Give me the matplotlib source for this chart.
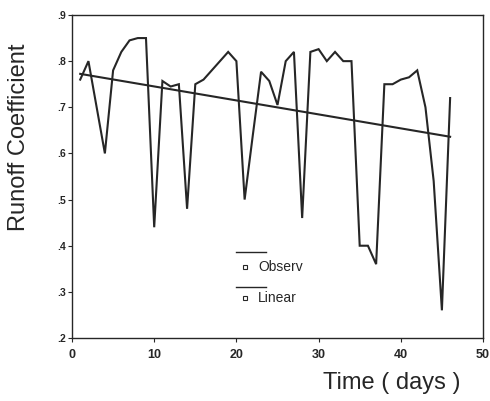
import numpy as np
import matplotlib
matplotlib.use("Agg")
import matplotlib.pyplot as plt
from matplotlib.ticker import FuncFormatter

days = list(range(1, 47))
runoff = [0.76, 0.80, 0.70, 0.60, 0.78, 0.82, 0.845, 0.85, 0.85, 0.44,
          0.757, 0.745, 0.75, 0.48, 0.75, 0.76, 0.78, 0.80, 0.82, 0.80,
          0.50, 0.64, 0.777, 0.757, 0.705, 0.80, 0.82, 0.46, 0.82, 0.826,
          0.80, 0.82, 0.80, 0.80, 0.40, 0.40, 0.36, 0.75, 0.75, 0.76,
          0.765, 0.78, 0.70, 0.54, 0.26, 0.72]
legend_labels = ["Observ", "Linear"]
x_ticks = [0, 10, 20, 30, 40, 50]
y_ticks = [0.2, 0.3, 0.4, 0.5, 0.6, 0.7, 0.8, 0.9]

plt.rcParams['font.family'] = ['Liberation Sans', 'DejaVu Sans']
ink = '#262626'

fig = plt.figure(figsize=(4.9, 4.01), dpi=100)
ax = fig.add_axes([72/490, 1-338/401, 411/490, 323/401])

x = np.array(days, dtype=float)
y = np.array(runoff)
ax.plot(x, y, color=ink, lw=1.5, solid_joinstyle='miter')
coef = np.polyfit(x, y, 1)
ax.plot(x, np.polyval(coef, x), color=ink, lw=1.5)

ax.set_xlim(0, 50)
ax.set_ylim(0.2, 0.9)
ax.set_xticks(x_ticks)
ax.set_yticks(y_ticks)
ax.yaxis.set_major_formatter(FuncFormatter(lambda v, p: ('%.1f' % v).lstrip('0')))
ax.tick_params(axis='both', direction='out', length=3, width=0.8, color=ink)
ax.tick_params(axis='y', labelsize=7.5, pad=1)
ax.tick_params(axis='x', labelsize=9, pad=5)
for lab in ax.get_xticklabels() + ax.get_yticklabels():
    lab.set_fontweight('bold')
    lab.set_color(ink)
for s in ax.spines.values():
    s.set_linewidth(1.0)
    s.set_color(ink)

# legend (SPSS style)
tr = ax.transAxes
ax.plot([0.40, 0.473], [0.267, 0.267], color=ink, lw=1.0, transform=tr, clip_on=False)
ax.plot([0.421], [0.221], marker='s', ms=3.5, mfc='white', mec=ink, mew=0.8, transform=tr, clip_on=False)
ax.text(0.453, 0.221, legend_labels[0], transform=tr, fontsize=10, va='center', ha='left', color=ink)
ax.plot([0.40, 0.473], [0.159, 0.159], color=ink, lw=1.0, transform=tr, clip_on=False)
ax.plot([0.421], [0.123], marker='s', ms=3.5, mfc='white', mec=ink, mew=0.8, transform=tr, clip_on=False)
ax.text(0.453, 0.123, legend_labels[1], transform=tr, fontsize=10, va='center', ha='left', color=ink)

fig.text(392/490, 1-383/401, 'Time ( days )', fontsize=17, ha='center', va='center', color=ink)
fig.text(19/490, 1-137/401, 'Runoff Coefficient', fontsize=17, ha='center', va='center', rotation=90, color=ink)

fig.savefig('out.png', dpi=100, facecolor='white')
